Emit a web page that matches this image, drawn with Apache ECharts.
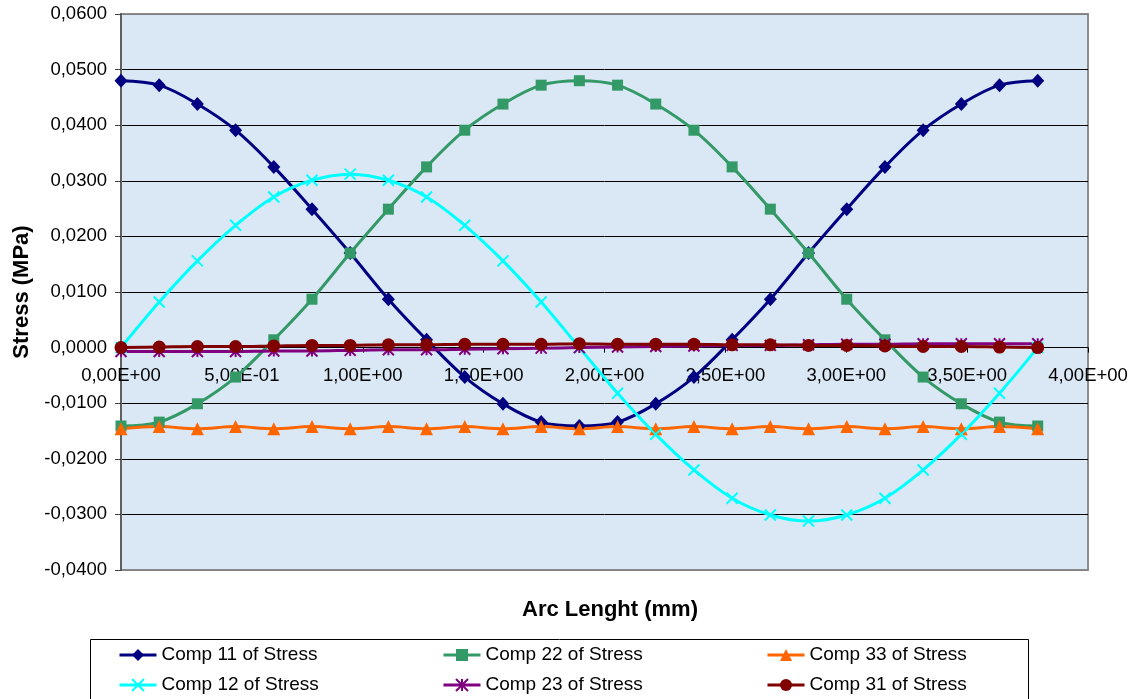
<!DOCTYPE html>
<html>
<head>
<meta charset="utf-8">
<title>Stress components along arc length</title>
<script src="https://cdn.jsdelivr.net/npm/echarts@6/dist/echarts.min.js"></script>
<style>
  html, body { margin: 0; padding: 0; background: #ffffff; }
  #chart { width: 1133px; height: 699px; }
</style>
</head>
<body>
<div id="chart"></div>
<script>
// Arc length positions of the sampled nodes (mm)
const arcLength = [0, 0.158, 0.316, 0.474, 0.632, 0.790, 0.948, 1.106, 1.264, 1.422, 1.580, 1.738,
  1.896, 2.054, 2.212, 2.370, 2.528, 2.686, 2.844, 3.002, 3.160, 3.318, 3.476, 3.634, 3.792];

// Stress components (MPa)
const comp11 = [0.0480, 0.0472, 0.0438, 0.0391, 0.0325, 0.0249, 0.0170, 0.0087, 0.0014, -0.0053, -0.0101, -0.0134,
  -0.0141, -0.0134, -0.0101, -0.0053, 0.0014, 0.0087, 0.0170, 0.0249, 0.0325, 0.0391, 0.0438, 0.0472, 0.0480];
const comp22 = [-0.0141, -0.0134, -0.0101, -0.0053, 0.0014, 0.0087, 0.0170, 0.0249, 0.0325, 0.0391, 0.0438, 0.0472,
  0.0480, 0.0472, 0.0438, 0.0391, 0.0325, 0.0249, 0.0170, 0.0087, 0.0014, -0.0053, -0.0101, -0.0134, -0.0141];
const comp33 = [-0.0146, -0.0142, -0.0146, -0.0142, -0.0146, -0.0142, -0.0146, -0.0142, -0.0146, -0.0142, -0.0146, -0.0142,
  -0.0146, -0.0142, -0.0146, -0.0142, -0.0146, -0.0142, -0.0146, -0.0142, -0.0146, -0.0142, -0.0146, -0.0142, -0.0146];
const comp12 = [0.0000, 0.0082, 0.0156, 0.0220, 0.0271, 0.0301, 0.0312, 0.0301, 0.0271, 0.0220, 0.0156, 0.0082,
  0.0000, -0.0082, -0.0156, -0.0220, -0.0271, -0.0301, -0.0312, -0.0301, -0.0271, -0.0220, -0.0156, -0.0082, 0.0000];
const comp23 = [-0.0007, -0.0007, -0.0007, -0.0007, -0.0006, -0.0006, -0.0005, -0.0004, -0.0004, -0.0003, -0.0002, -0.0001,
  0.0000, 0.0001, 0.0002, 0.0003, 0.0004, 0.0004, 0.0005, 0.0006, 0.0006, 0.0007, 0.0007, 0.0007, 0.0007];
const comp31 = [0.0000, 0.0001, 0.0002, 0.0002, 0.0003, 0.0004, 0.0004, 0.0005, 0.0005, 0.0006, 0.0006, 0.0006,
  0.0007, 0.0006, 0.0006, 0.0006, 0.0005, 0.0005, 0.0004, 0.0004, 0.0003, 0.0002, 0.0002, 0.0001, 0.0000];

const seriesNames = ['Comp 11 of Stress', 'Comp 22 of Stress', 'Comp 33 of Stress',
  'Comp 12 of Stress', 'Comp 23 of Stress', 'Comp 31 of Stress'];

const FONT = '"Liberation Sans", Arial, sans-serif';

// Axis ranges and tick steps
const xMin = 0, xMax = 4, xStep = 0.5;
const yMin = -0.04, yMax = 0.06, yStep = 0.01;

// Plot area box
const gridBox = { left: 121, top: 14, right: 45, bottom: 129 };
const plotHeight = 699 - gridBox.top - gridBox.bottom;
// Shift the x axis up from the bottom edge onto the y = 0 line
const xAxisShift = -plotHeight * (0 - yMin) / (yMax - yMin);

function pairs(ys) {
  return arcLength.map((x, i) => [x, ys[i]]);
}

// 5,00E-01 style scientific labels
function sciLabel(v) {
  if (Math.abs(v) < 1e-12) return '0,00E+00';
  const parts = v.toExponential(2).split('e');
  const exp = parseInt(parts[1], 10);
  const sign = exp < 0 ? '-' : '+';
  const digits = String(Math.abs(exp)).padStart(2, '0');
  return parts[0].replace('.', ',') + 'E' + sign + digits;
}

function decLabel(v) {
  if (Math.abs(v) < 1e-9) v = 0;
  return v.toFixed(4).replace('.', ',');
}

const crossSymbol = 'path://M0,0L10,10M10,0L0,10';
const starSymbol = 'path://M5,0L5,10M0,0L10,10M10,0L0,10';

function lineSeries(name, ys, color, symbol, size, strokeOnly) {
  const s = {
    name: name,
    type: 'line',
    data: pairs(ys),
    smooth: 0.35,
    symbol: symbol,
    symbolSize: size,
    showAllSymbol: true,
    lineStyle: { color: color, width: 3 },
    itemStyle: { color: color },
    emphasis: { disabled: true },
    animation: false
  };
  if (strokeOnly) {
    s.itemStyle = { color: color, borderColor: color, borderWidth: 2 };
  }
  return s;
}

const splitColors = [];
for (let v = yMin; v <= yMax + 1e-9; v += yStep) {
  const edge = Math.abs(v - yMin) < 1e-9 || Math.abs(v - yMax) < 1e-9;
  splitColors.push(edge ? '#808080' : '#000000');
}

const legendCommon = {
  orient: 'vertical',
  height: 80,
  padding: 0,
  itemWidth: 37,
  itemHeight: 15,
  itemGap: 10,
  lineStyle: { width: 3 },
  textStyle: { fontSize: 19, fontFamily: FONT, color: '#000', lineHeight: 20 },
  selectedMode: false
};

const chart = echarts.init(document.getElementById('chart'), null, { renderer: 'canvas' });

chart.setOption({
  backgroundColor: '#ffffff',
  animation: false,
  title: {
    text: 'Arc Lenght (mm)',
    left: 605,
    textAlign: 'center',
    top: 594,
    textStyle: { fontSize: 22, fontWeight: 'bold', fontFamily: FONT, color: '#000' }
  },
  grid: Object.assign({
    show: true,
    backgroundColor: '#dae8f6',
    borderColor: '#8c8c8c',
    borderWidth: 2
  }, gridBox),
  xAxis: {
    type: 'value',
    min: xMin, max: xMax, interval: xStep,
    position: 'bottom',
    offset: xAxisShift,
    axisLine: { show: true, onZero: false, lineStyle: { color: '#000', width: 1 } },
    axisTick: { show: true, inside: false, length: 5, lineStyle: { color: '#000' } },
    axisLabel: { formatter: sciLabel, fontSize: 18.5, fontFamily: FONT, color: '#000', margin: 19, showMinLabel: true, showMaxLabel: true },
    splitLine: { show: false }
  },
  yAxis: {
    type: 'value',
    min: yMin, max: yMax, interval: yStep,
    name: 'Stress (MPa)',
    nameLocation: 'middle',
    nameGap: 88,
    nameTextStyle: { fontSize: 22, fontWeight: 'bold', fontFamily: FONT, color: '#000' },
    axisLine: { show: true, onZero: false, lineStyle: { color: '#606060', width: 2 } },
    axisTick: { show: true, inside: false, length: 6, lineStyle: { color: '#404040' } },
    axisLabel: { formatter: decLabel, fontSize: 18.5, fontFamily: FONT, color: '#000', margin: 14 },
    splitLine: { show: true, lineStyle: { color: splitColors, width: 1 } }
  },
  legend: [
    Object.assign({ data: [seriesNames[0], seriesNames[3]], left: 118, top: 645 }, legendCommon),
    Object.assign({ data: [seriesNames[1], seriesNames[4]], left: 442, top: 645 }, legendCommon),
    Object.assign({ data: [seriesNames[2], seriesNames[5]], left: 766, top: 645 }, legendCommon)
  ],
  graphic: [{
    type: 'rect',
    shape: { x: 90.5, y: 639.5, width: 938, height: 100 },
    style: { fill: 'none', stroke: '#000', lineWidth: 1 },
    z: 1,
    silent: true
  }],
  series: [
    lineSeries(seriesNames[0], comp11, '#000080', 'diamond', [13, 14], false),
    lineSeries(seriesNames[1], comp22, '#339966', 'rect', 11, false),
    lineSeries(seriesNames[2], comp33, '#ff6600', 'triangle', 13, false),
    lineSeries(seriesNames[3], comp12, '#00ffff', crossSymbol, 11, true),
    lineSeries(seriesNames[4], comp23, '#800080', starSymbol, 11, true),
    lineSeries(seriesNames[5], comp31, '#800000', 'circle', 13, false)
  ]
});
</script>
</body>
</html>
